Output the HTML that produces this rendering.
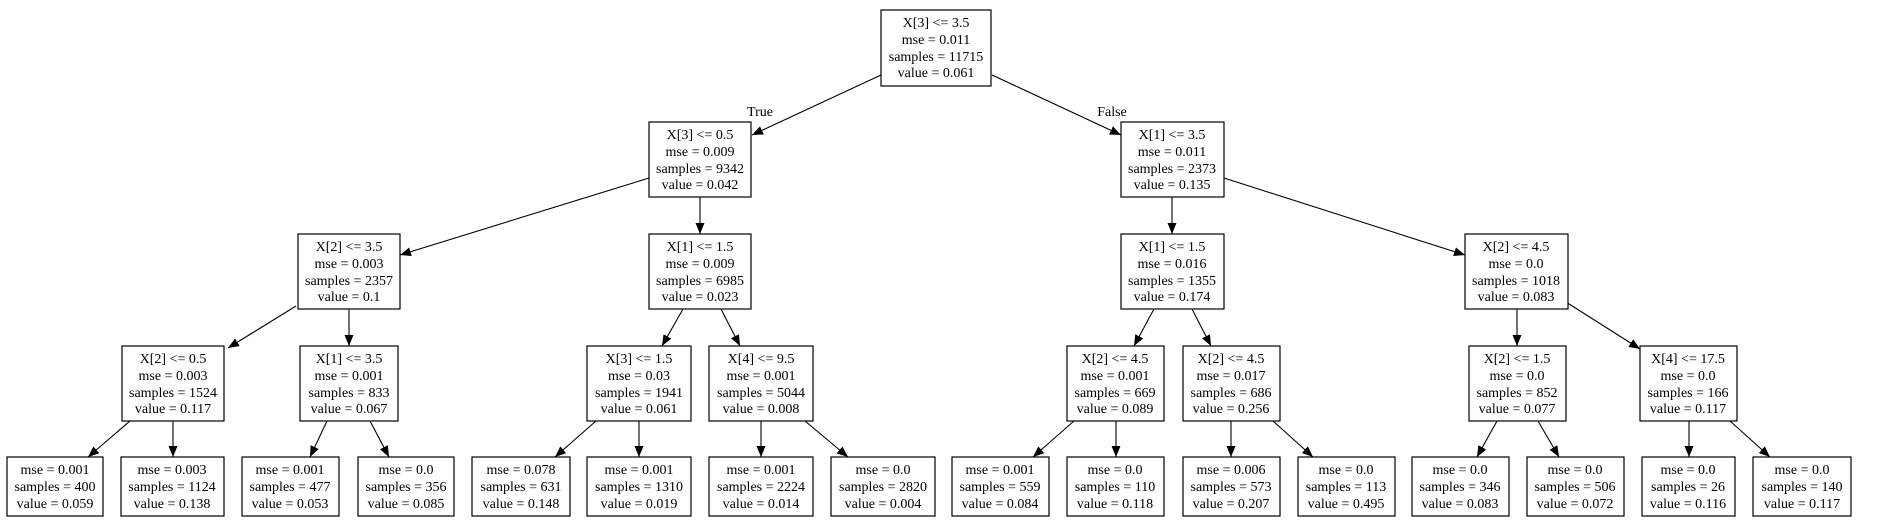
<!DOCTYPE html>
<html><head><meta charset="utf-8"><style>
html,body{margin:0;padding:0;background:#fff;width:1882px;height:528px;overflow:hidden}
svg text{font-family:"Liberation Serif",serif;font-size:14px;fill:#000;text-anchor:middle}
rect{fill:#fff;stroke:#000;stroke-width:1.2}
line{stroke:#000;stroke-width:1.1}
</style></head><body>
<svg width="1882" height="528" xmlns="http://www.w3.org/2000/svg">
<defs><marker id="a" markerUnits="userSpaceOnUse" markerWidth="12" markerHeight="10" refX="11" refY="4.5" orient="auto"><path d="M0,0 L11,4.5 L0,9 Z" fill="#000"/></marker></defs>
<g marker-end="url(#a)">
<line x1="881" y1="75" x2="752" y2="135"/>
<line x1="992" y1="75" x2="1121" y2="135"/>
<line x1="649" y1="178" x2="400" y2="255"/>
<line x1="700" y1="197" x2="700" y2="234"/>
<line x1="1172" y1="197" x2="1172" y2="234"/>
<line x1="1224" y1="178" x2="1465" y2="255"/>
<line x1="296" y1="306" x2="228" y2="348"/>
<line x1="349" y1="309" x2="349" y2="346"/>
<line x1="683" y1="309" x2="662" y2="346"/>
<line x1="721" y1="309" x2="740" y2="346"/>
<line x1="1154" y1="309" x2="1134" y2="346"/>
<line x1="1192" y1="309" x2="1211" y2="346"/>
<line x1="1517" y1="309" x2="1517" y2="346"/>
<line x1="1566" y1="302" x2="1640" y2="349"/>
<line x1="130" y1="421" x2="88" y2="457"/>
<line x1="173" y1="421" x2="173" y2="457"/>
<line x1="327" y1="421" x2="310" y2="457"/>
<line x1="370" y1="421" x2="389" y2="457"/>
<line x1="596" y1="421" x2="555" y2="457"/>
<line x1="639" y1="421" x2="639" y2="457"/>
<line x1="761" y1="421" x2="761" y2="457"/>
<line x1="805" y1="421" x2="848" y2="457"/>
<line x1="1074" y1="421" x2="1033" y2="457"/>
<line x1="1116" y1="421" x2="1116" y2="457"/>
<line x1="1231" y1="421" x2="1231" y2="457"/>
<line x1="1273" y1="421" x2="1313" y2="457"/>
<line x1="1497" y1="421" x2="1477" y2="457"/>
<line x1="1538" y1="421" x2="1559" y2="457"/>
<line x1="1689" y1="421" x2="1689" y2="457"/>
<line x1="1730" y1="421" x2="1770" y2="457"/>
</g>
<text x="760" y="116">True</text>
<text x="1112" y="116">False</text>

<rect x="881" y="10" width="110" height="76"/>
<text x="936" y="27">X[3] &lt;= 3.5</text><text x="936" y="44">mse = 0.011</text><text x="936" y="61">samples = 11715</text><text x="936" y="77">value = 0.061</text>

<rect x="649" y="122" width="102" height="75"/>
<text x="700" y="139">X[3] &lt;= 0.5</text><text x="700" y="156">mse = 0.009</text><text x="700" y="173">samples = 9342</text><text x="700" y="189">value = 0.042</text>
<rect x="1121" y="122" width="103" height="75"/>
<text x="1172" y="139">X[1] &lt;= 3.5</text><text x="1172" y="156">mse = 0.011</text><text x="1172" y="173">samples = 2373</text><text x="1172" y="189">value = 0.135</text>

<rect x="298" y="234" width="102" height="75"/>
<text x="349" y="251">X[2] &lt;= 3.5</text><text x="349" y="268">mse = 0.003</text><text x="349" y="285">samples = 2357</text><text x="349" y="301">value = 0.1</text>
<rect x="649" y="234" width="102" height="75"/>
<text x="700" y="251">X[1] &lt;= 1.5</text><text x="700" y="268">mse = 0.009</text><text x="700" y="285">samples = 6985</text><text x="700" y="301">value = 0.023</text>
<rect x="1121" y="234" width="103" height="75"/>
<text x="1172" y="251">X[1] &lt;= 1.5</text><text x="1172" y="268">mse = 0.016</text><text x="1172" y="285">samples = 1355</text><text x="1172" y="301">value = 0.174</text>
<rect x="1465" y="234" width="103" height="75"/>
<text x="1516" y="251">X[2] &lt;= 4.5</text><text x="1516" y="268">mse = 0.0</text><text x="1516" y="285">samples = 1018</text><text x="1516" y="301">value = 0.083</text>

<rect x="122" y="346" width="102" height="75"/>
<text x="173" y="363">X[2] &lt;= 0.5</text><text x="173" y="380">mse = 0.003</text><text x="173" y="397">samples = 1524</text><text x="173" y="413">value = 0.117</text>
<rect x="300" y="346" width="98" height="75"/>
<text x="349" y="363">X[1] &lt;= 3.5</text><text x="349" y="380">mse = 0.001</text><text x="349" y="397">samples = 833</text><text x="349" y="413">value = 0.067</text>
<rect x="587" y="346" width="104" height="75"/>
<text x="639" y="363">X[3] &lt;= 1.5</text><text x="639" y="380">mse = 0.03</text><text x="639" y="397">samples = 1941</text><text x="639" y="413">value = 0.061</text>
<rect x="709" y="346" width="104" height="75"/>
<text x="761" y="363">X[4] &lt;= 9.5</text><text x="761" y="380">mse = 0.001</text><text x="761" y="397">samples = 5044</text><text x="761" y="413">value = 0.008</text>
<rect x="1067" y="346" width="97" height="75"/>
<text x="1115" y="363">X[2] &lt;= 4.5</text><text x="1115" y="380">mse = 0.001</text><text x="1115" y="397">samples = 669</text><text x="1115" y="413">value = 0.089</text>
<rect x="1183" y="346" width="97" height="75"/>
<text x="1231" y="363">X[2] &lt;= 4.5</text><text x="1231" y="380">mse = 0.017</text><text x="1231" y="397">samples = 686</text><text x="1231" y="413">value = 0.256</text>
<rect x="1469" y="346" width="97" height="75"/>
<text x="1517" y="363">X[2] &lt;= 1.5</text><text x="1517" y="380">mse = 0.0</text><text x="1517" y="397">samples = 852</text><text x="1517" y="413">value = 0.077</text>
<rect x="1640" y="346" width="97" height="75"/>
<text x="1688" y="363">X[4] &lt;= 17.5</text><text x="1688" y="380">mse = 0.0</text><text x="1688" y="397">samples = 166</text><text x="1688" y="413">value = 0.117</text>

<rect x="7" y="457" width="96" height="59"/>
<text x="55" y="474">mse = 0.001</text><text x="55" y="491">samples = 400</text><text x="55" y="508">value = 0.059</text>
<rect x="121" y="457" width="103" height="59"/>
<text x="172" y="474">mse = 0.003</text><text x="172" y="491">samples = 1124</text><text x="172" y="508">value = 0.138</text>
<rect x="242" y="457" width="97" height="59"/>
<text x="290" y="474">mse = 0.001</text><text x="290" y="491">samples = 477</text><text x="290" y="508">value = 0.053</text>
<rect x="358" y="457" width="96" height="59"/>
<text x="406" y="474">mse = 0.0</text><text x="406" y="491">samples = 356</text><text x="406" y="508">value = 0.085</text>
<rect x="472" y="457" width="98" height="59"/>
<text x="521" y="474">mse = 0.078</text><text x="521" y="491">samples = 631</text><text x="521" y="508">value = 0.148</text>
<rect x="587" y="457" width="104" height="59"/>
<text x="639" y="474">mse = 0.001</text><text x="639" y="491">samples = 1310</text><text x="639" y="508">value = 0.019</text>
<rect x="709" y="457" width="104" height="59"/>
<text x="761" y="474">mse = 0.001</text><text x="761" y="491">samples = 2224</text><text x="761" y="508">value = 0.014</text>
<rect x="831" y="457" width="104" height="59"/>
<text x="883" y="474">mse = 0.0</text><text x="883" y="491">samples = 2820</text><text x="883" y="508">value = 0.004</text>
<rect x="952" y="457" width="97" height="59"/>
<text x="1000" y="474">mse = 0.001</text><text x="1000" y="491">samples = 559</text><text x="1000" y="508">value = 0.084</text>
<rect x="1067" y="457" width="97" height="59"/>
<text x="1115" y="474">mse = 0.0</text><text x="1115" y="491">samples = 110</text><text x="1115" y="508">value = 0.118</text>
<rect x="1183" y="457" width="97" height="59"/>
<text x="1231" y="474">mse = 0.006</text><text x="1231" y="491">samples = 573</text><text x="1231" y="508">value = 0.207</text>
<rect x="1298" y="457" width="97" height="59"/>
<text x="1346" y="474">mse = 0.0</text><text x="1346" y="491">samples = 113</text><text x="1346" y="508">value = 0.495</text>
<rect x="1412" y="457" width="97" height="59"/>
<text x="1460" y="474">mse = 0.0</text><text x="1460" y="491">samples = 346</text><text x="1460" y="508">value = 0.083</text>
<rect x="1527" y="457" width="97" height="59"/>
<text x="1575" y="474">mse = 0.0</text><text x="1575" y="491">samples = 506</text><text x="1575" y="508">value = 0.072</text>
<rect x="1642" y="457" width="93" height="59"/>
<text x="1688" y="474">mse = 0.0</text><text x="1688" y="491">samples = 26</text><text x="1688" y="508">value = 0.116</text>
<rect x="1753" y="457" width="98" height="59"/>
<text x="1802" y="474">mse = 0.0</text><text x="1802" y="491">samples = 140</text><text x="1802" y="508">value = 0.117</text>
</svg>
</body></html>
